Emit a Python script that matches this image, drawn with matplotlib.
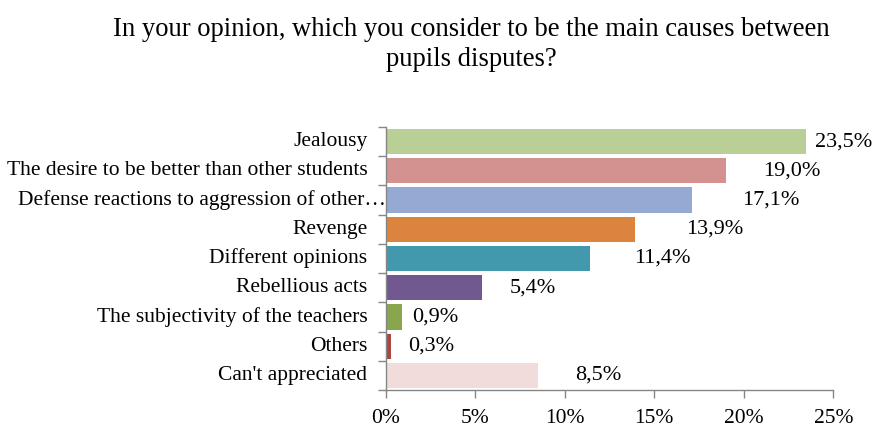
import matplotlib
matplotlib.use("Agg")
import matplotlib.pyplot as plt
import matplotlib.transforms as mtransforms

plt.rcParams['font.family'] = ['Liberation Serif', 'DejaVu Serif']

categories = [
    "Jealousy",
    "The desire to be better than other students",
    "Defense reactions to aggression of other\u2026",
    "Revenge",
    "Different opinions",
    "Rebellious acts",
    "The subjectivity of the teachers",
    "Others",
    "Can't appreciated",
]
values = [23.5, 19.0, 17.1, 13.9, 11.4, 5.4, 0.9, 0.3, 8.5]
value_labels = ["23,5%", "19,0%", "17,1%", "13,9%", "11,4%", "5,4%", "0,9%", "0,3%", "8,5%"]
x_ticks = [0, 5, 10, 15, 20, 25]
x_tick_labels = ["0%", "5%", "10%", "15%", "20%", "25%"]

colors = ["#B9CF96", "#D39190", "#94AAD2", "#DB843D", "#4299AE",
          "#71588F", "#89A54E", "#AA4643", "#F2DCDB"]
# horizontal gap between bar end and its value label (in % units)
label_gaps = [0.5, 2.1, 2.8, 2.87, 2.5, 1.54, 0.55, 0.96, 2.07]

fig = plt.figure(figsize=(8.77, 4.28), dpi=100)
ax = fig.add_axes([0.4398, 0.0888, 0.5104, 0.6145])

n = len(categories)
ypos = list(range(n))
ax.barh(ypos, values, height=0.86, color=colors, zorder=2)
ax.set_ylim(n - 0.5, -0.5)
ax.set_xlim(0, 25)

for y, v, lab, g in zip(ypos, values, value_labels, label_gaps):
    ax.text(v + g, y, lab, ha='left', va='center', fontsize=16, color='#000000')

# category labels, right aligned left of the axis
trans = mtransforms.blended_transform_factory(ax.transAxes, ax.transData)
for y, cat in zip(ypos, categories):
    off = -0.0 if cat.endswith("\u2026") else -0.041
    ax.text(off, y, cat, transform=trans, ha='right', va='center', fontsize=15.5)

ax.set_yticks([i - 0.5 for i in range(n + 1)])
ax.set_yticklabels([])
ax.set_xticks(x_ticks)
ax.set_xticklabels(x_tick_labels, fontsize=15.5)

for s in ['top', 'right']:
    ax.spines[s].set_visible(False)
for s in ['left', 'bottom']:
    ax.spines[s].set_color('#868686')
    ax.spines[s].set_linewidth(1)
ax.tick_params(axis='both', colors='#868686', length=5.5, width=1, direction='out')
ax.tick_params(axis='x', labelcolor='#000000', pad=8)

fig.text(0.537, 0.930, "In your opinion, which you consider to be the main causes between",
         ha='center', va='center', fontsize=19.2)
fig.text(0.537, 0.860, "pupils disputes?", ha='center', va='center', fontsize=19.2)

fig.savefig("out.png", dpi=100)
